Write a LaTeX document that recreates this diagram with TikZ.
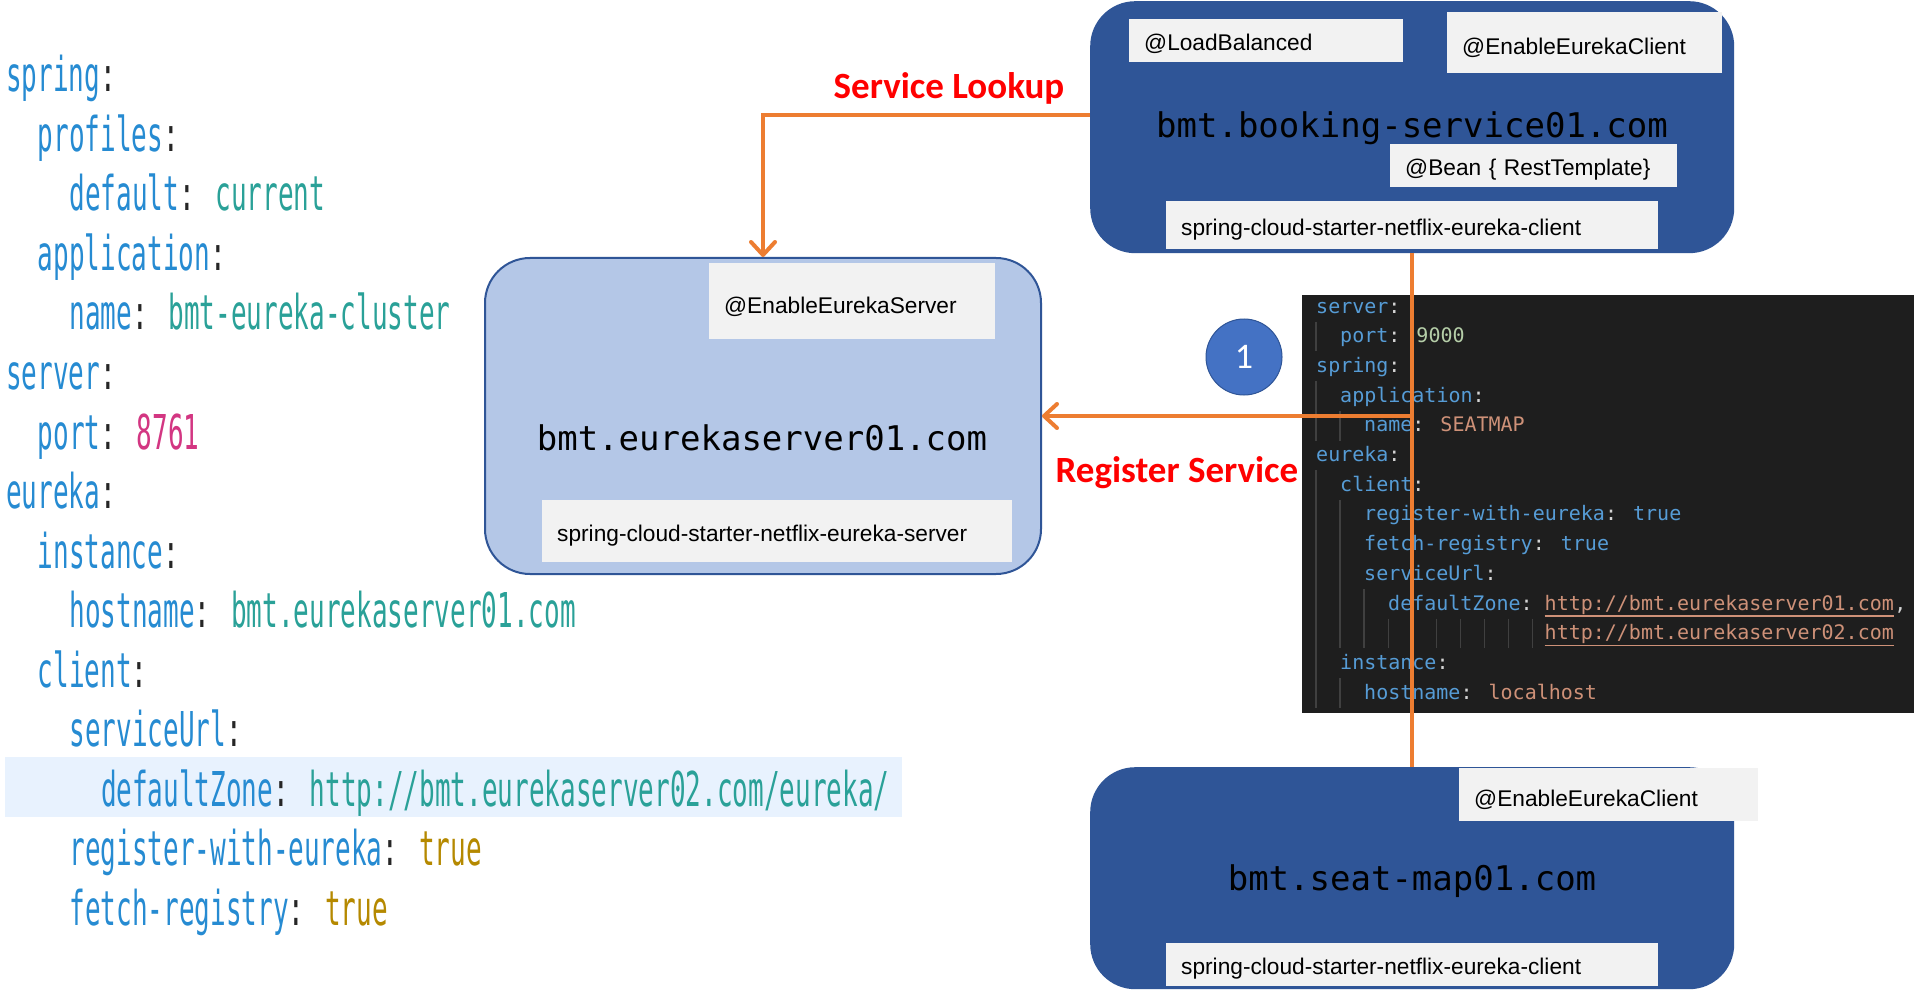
\documentclass[tikz,border=0pt]{standalone}
\usepackage{fontspec}
\setmainfont{Liberation Sans}
\newfontfamily\leftcodefont[FakeStretch=0.542]{DejaVu Sans Mono}
\newfontfamily\monofont{DejaVu Sans Mono}
\newfontfamily\calfont{Carlito}
\usetikzlibrary{arrows.meta}
\definecolor{darkblue}{HTML}{2F5597}
\definecolor{lightblue}{HTML}{B4C7E7}
\definecolor{annogray}{HTML}{F2F2F2}
\definecolor{arroworange}{HTML}{ED7D31}
\definecolor{circblue}{HTML}{4472C4}
\definecolor{ykey}{HTML}{268BD2}
\definecolor{ystr}{HTML}{2AA198}
\definecolor{ynum}{HTML}{D33682}
\definecolor{ybool}{HTML}{B58900}
\definecolor{yhl}{HTML}{E8F2FE}
\definecolor{vsbg}{HTML}{1E1E1E}
\definecolor{vskey}{HTML}{569CD6}
\definecolor{vsnum}{HTML}{B5CEA8}
\definecolor{vsstr}{HTML}{CE9178}
\definecolor{vspun}{HTML}{D4D4D4}
\definecolor{vsguide}{HTML}{404040}
\newcommand{\yk}[1]{\textcolor{ykey}{#1}}
\newcommand{\ys}[1]{\textcolor{ystr}{#1}}
\newcommand{\yn}[1]{\textcolor{ynum}{#1}}
\newcommand{\yb}[1]{\textcolor{ybool}{#1}}
\newcommand{\vk}[1]{\textcolor{vskey}{#1}}
\newcommand{\vn}[1]{\textcolor{vsnum}{#1}}
\newcommand{\vs}[1]{\textcolor{vsstr}{#1}}
\newcommand{\vp}[1]{\textcolor{vspun}{#1}}
\begin{document}
\begin{tikzpicture}[x=1pt,y=-1pt,
  lcode/.style={anchor=base west, inner sep=0pt, text=black!85, font=\leftcodefont\fontsize{48}{58}\selectfont},
  rcode/.style={anchor=base west, inner sep=0pt, font=\monofont\fontsize{20}{24}\selectfont},
  darkbox/.style={fill=darkblue, rounded corners=45pt, anchor=north west, inner sep=0pt},
  serverbox/.style={fill=lightblue, draw=darkblue, line width=2pt, rounded corners=45pt, anchor=north west, inner sep=0pt},
  anno/.style={fill=annogray, anchor=north west, inner xsep=15pt, inner ysep=0pt, align=left, text height=20pt, text depth=0pt, font=\fontsize{22.7}{26}\selectfont},
  maintext/.style={anchor=base, inner sep=0pt, text=black, font=\monofont\fontsize{34}{40}\selectfont},
  redlabel/.style={anchor=base, inner sep=0pt, text=red, font=\calfont\bfseries\fontsize{37}{44}\selectfont},
  conn/.style={draw=arroworange, line width=4pt},
  tip/.style={-{Straight Barb[length=13pt,width=24pt,round]}},
  guide/.style={draw=vsguide, line width=1.3pt}
]
\fill[white] (0,0) rectangle (1914,992);
\useasboundingbox (0,0) rectangle (1914,992);

% ---------- left YAML ----------
\fill[yhl] (5,757) rectangle (902,817);
\node[lcode] (l0) at (6,92) {\yk{spring}:};
\node[lcode] (l1) at (37.6,151.5) {\yk{profiles}:};
\node[lcode] (l2) at (69.2,211) {\yk{default}: \ys{current}};
\node[lcode] (l3) at (37.6,270.5) {\yk{application}:};
\node[lcode] (l4) at (69.2,330) {\yk{name}: \ys{bmt-eureka-cluster}};
\node[lcode] (l5) at (6,389.5) {\yk{server}:};
\node[lcode] (l6) at (37.6,449) {\yk{port}: \yn{8761}};
\node[lcode] (l7) at (6,508.5) {\yk{eureka}:};
\node[lcode] (l8) at (37.6,568) {\yk{instance}:};
\node[lcode] (l9) at (69.2,627.5) {\yk{hostname}: \ys{bmt.eurekaserver01.com}};
\node[lcode] (l10) at (37.6,687) {\yk{client}:};
\node[lcode] (l11) at (69.2,746.5) {\yk{serviceUrl}:};
\node[lcode] (l12) at (100.8,806) {\yk{defaultZone}: \ys{http://bmt.eurekaserver02.com/eureka/}};
\node[lcode] (l13) at (69.2,865.5) {\yk{register-with-eureka}: \yb{true}};
\node[lcode] (l14) at (69.2,925) {\yk{fetch-registry}: \yb{true}};

% ---------- dark code panel ----------
\node[fill=vsbg, anchor=north west, minimum width=612pt, minimum height=418pt, inner sep=0pt] (panel) at (1302,295) {};
% indent guides
\draw[guide] (1316,321.7) -- (1316,351.4);
\draw[guide] (1316,381.1) -- (1316,440.5);
\draw[guide] (1316,470.2) -- (1316,707.8);
\draw[guide] (1340,410.8) -- (1340,440.5);
\draw[guide] (1340,499.9) -- (1340,648.4);
\draw[guide] (1340,678.1) -- (1340,707.8);
\draw[guide] (1364,589) -- (1364,648.4);
\foreach \k in {3,...,9} {\draw[guide] (1316+24.08*\k,618.7) -- (1316+24.08*\k,648.4);}
\node[rcode] (r0) at (1316,313) {\vk{server}\vp{:}};
\node[rcode] (r1) at (1340,342.7) {\vk{port}\vp{:} \vn{9000}};
\node[rcode] (r2) at (1316,372.4) {\vk{spring}\vp{:}};
\node[rcode] (r3) at (1340,402.1) {\vk{application}\vp{:}};
\node[rcode] (r4) at (1364,431.8) {\vk{name}\vp{:} \vs{SEATMAP}};
\node[rcode] (r5) at (1316,461.5) {\vk{eureka}\vp{:}};
\node[rcode] (r6) at (1340,491.2) {\vk{client}\vp{:}};
\node[rcode] (r7) at (1364,520.9) {\vk{register-with-eureka}\vp{:} \vk{true}};
\node[rcode] (r8) at (1364,550.6) {\vk{fetch-registry}\vp{:} \vk{true}};
\node[rcode] (r9) at (1364,580.3) {\vk{serviceUrl}\vp{:}};
\node[rcode] (r10) at (1388,610) {\vk{defaultZone}\vp{:}};
\node[rcode, text=vsstr] (u1) at (1544.5,610) {http://bmt.eurekaserver01.com};
\node[rcode] (c1) at (u1.base east) {\vp{,}};
\node[rcode, text=vsstr] (u2) at (1544.5,639.7) {http://bmt.eurekaserver02.com};
\draw[vsstr, line width=1.3pt] ([yshift=-6pt]u1.base west) -- ([yshift=-6pt]u1.base east);
\draw[vsstr, line width=1.3pt] ([yshift=-6pt]u2.base west) -- ([yshift=-6pt]u2.base east);
\node[rcode] (r12) at (1340,669.4) {\vk{instance}\vp{:}};
\node[rcode] (r13) at (1364,699.1) {\vk{hostname}\vp{:} \vs{localhost}};

% ---------- main boxes ----------
\node[serverbox, minimum width=556pt, minimum height=316pt] (eureka) at (484,257) {};
\node[darkbox, minimum width=644pt, minimum height=252pt] (booking) at (1090,1) {};
\node[darkbox, minimum width=644pt, minimum height=222pt] (seat) at (1090,767) {};

\node[maintext] (etxt) at (762,450) {bmt.eurekaserver01.com};
\node[maintext] (btxt) at (1412,138) {bmt.booking-service01.com};
\node[maintext] (stxt) at (1412,890) {bmt.seat-map01.com};

% ---------- annotation boxes ----------
\node[anno, text width=244pt, minimum height=43pt] (lb) at (1129,19) {@LoadBalanced};
\node[anno, text width=245pt, minimum height=61pt, text height=24pt] (ectop) at (1447,12) {@EnableEurekaClient};
\node[anno, text width=257pt, minimum height=43pt] (bean) at (1390,144) {@Bean \{ RestTemplate\}};
\node[anno, text width=462pt, minimum height=48pt] (bclient) at (1166,201) {spring-cloud-starter-netflix-eureka-client};
\node[anno, text width=256pt, minimum height=76pt, text height=24pt] (ees) at (709,263) {@EnableEurekaServer};
\node[anno, text width=440pt, minimum height=62pt] (sserver) at (542,500) {spring-cloud-starter-netflix-eureka-server};
\node[anno, text width=269pt, minimum height=53pt, text height=24pt] (ecseat) at (1459,768) {@EnableEurekaClient};
\node[anno, text width=462pt, minimum height=43pt] (sclient) at (1166,943) {spring-cloud-starter-netflix-eureka-client};

% ---------- connectors ----------
\draw[conn, tip] ([yshift=12pt]booking.west) -| (eureka.north);
\draw[conn] (booking.south) -- (seat.north);
\coordinate (junction) at (booking.south |- eureka.east);
\draw[conn, tip] (junction) -- (eureka.east);

% ---------- labels ----------
\node[redlabel] (lookup) at (949,99) {Service Lookup};
\node[redlabel] (register) at (1177,482) {Register Service};
\node[circle, fill=circblue, draw=darkblue, line width=1pt, minimum size=76pt, inner sep=0pt, text=white, font=\calfont\fontsize{36}{40}\selectfont] (one) at (1244,357) {1};
\end{tikzpicture}
\end{document}
